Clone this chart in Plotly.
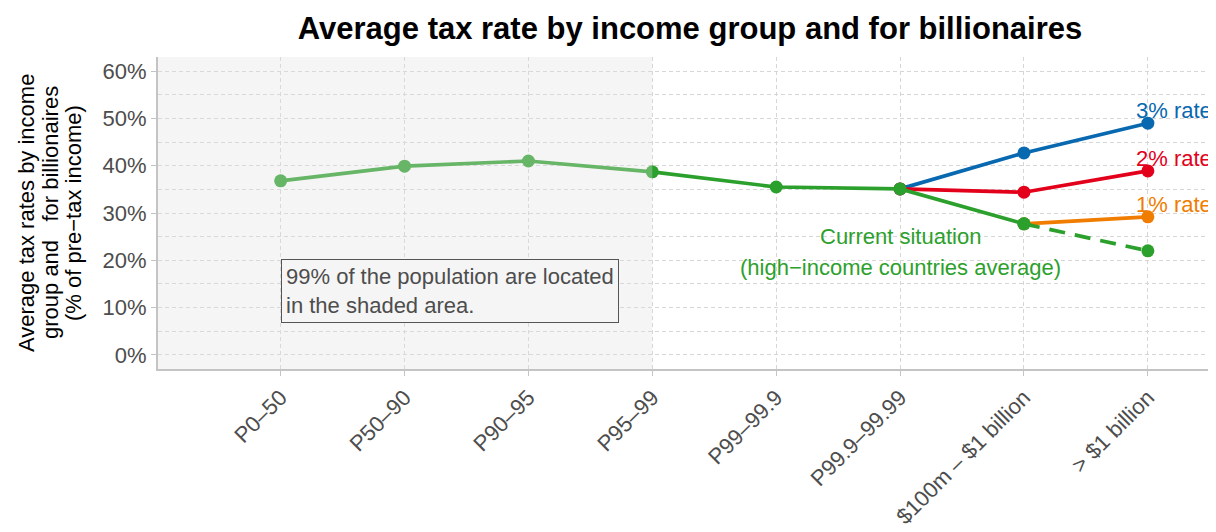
import plotly.graph_objects as go

categories = ["P0–50", "P50–90", "P90–95", "P95–99", "P99–99.9", "P99.9–99.99",
              "$100m – $1 billion", "> $1 billion"]
current_main = [36.8, 39.9, 41.0, 38.7, 35.5, 35.1, 27.7]
current_top = [27.7, 22.0]
rate3 = [35.1, 42.7, 49.0]
rate2 = [35.1, 34.4, 38.9]
rate1 = [27.7, 29.2]
y_ticks = [0, 10, 20, 30, 40, 50, 60]
y_tick_labels = ["0%", "10%", "20%", "30%", "40%", "50%", "60%"]
y_title_lines = ["Average tax rates by income", "group and   for billionaires",
                 "(% of pre−tax income)"]

GREEN = "#2ca02c"
BLUE = "#0868b0"
RED = "#e3001b"
ORANGE = "#f07d00"
FONT = "Liberation Sans, Arial, sans-serif"

xi = list(range(len(categories)))
fig = go.Figure()

def add_line(xs, ys, color, dash="solid"):
    fig.add_trace(go.Scatter(
        x=xs, y=ys, mode="lines+markers",
        line=dict(color=color, width=3.7, dash=dash),
        marker=dict(size=13, color=color), showlegend=False, hoverinfo="skip"))

add_line(xi[5:8], rate3, BLUE)
add_line(xi[5:8], rate2, RED)
add_line(xi[6:8], rate1, ORANGE)
add_line(xi[6:8], current_top, GREEN, dash="16px,10px")
add_line(xi[0:7], current_main, GREEN)

# shaded area (drawn on top, semi-transparent)
fig.add_shape(type="rect", xref="x", yref="paper", x0=-1.5, x1=3, y0=0, y1=1,
              fillcolor="rgba(224,224,224,0.33)", line=dict(width=0), layer="above")

# rate labels
for lbl, yv, col in [("3% rate", rate3[-1], BLUE), ("2% rate", rate2[-1], RED),
                     ("1% rate", rate1[-1], ORANGE)]:
    fig.add_annotation(x=7, y=yv, text=lbl, showarrow=False, xanchor="left",
                       xshift=-14, yanchor="bottom", yshift=-2,
                       font=dict(family=FONT, size=22, color=col))

fig.add_annotation(x=5, y=25.1, text="Current situation", showarrow=False,
                   font=dict(family=FONT, size=22, color=GREEN))
fig.add_annotation(x=5, y=18.4, text="(high−income countries average)", showarrow=False,
                   font=dict(family=FONT, size=22, color=GREEN))

fig.add_annotation(x=0.0, y=13.6, xanchor="left", yanchor="middle",
                   text="99% of the population are located<br>in the shaded area.",
                   showarrow=False, align="left",
                   font=dict(family=FONT, size=22, color="#4d4d4d"),
                   bgcolor="#f5f5f5", bordercolor="#555555", borderwidth=1,
                   borderpad=4)

# y-axis title, three lines
for line_text, px in zip(y_title_lines, [25, 49, 72]):
    fig.add_annotation(xref="paper", yref="paper", x=0, y=0.5, xanchor="center",
                       yanchor="middle", xshift=px - 157, text=line_text,
                       textangle=-90, showarrow=False,
                       font=dict(family=FONT, size=22, color="black"))

grid = dict(showgrid=True, gridcolor="#d6d6d6", gridwidth=1, griddash="4px,3px")

fig.update_layout(
    width=1208, height=524,
    margin=dict(l=150, r=0, t=49, b=163),
    paper_bgcolor="white", plot_bgcolor="white",
    title=dict(text="<b>Average tax rate by income group and for billionaires</b>",
               x=0.5646, xanchor="center", y=0.962, yanchor="middle",
               font=dict(family=FONT, size=31, color="black")),
    xaxis=dict(range=[-0.99, 7.55], tickmode="array", tickvals=xi, ticktext=categories,
               tickangle=-45, showline=True, linecolor="#c4c4c4", linewidth=2,
               ticks="outside", ticklen=5, tickcolor="#c4c4c4",
               tickfont=dict(family=FONT, size=22, color="#4d4d4d"),
               zeroline=False, automargin=False, **grid),
    yaxis=dict(range=[-3, 63], tickmode="array", tickvals=y_ticks, ticktext=y_tick_labels,
               showline=True, linecolor="#c4c4c4", linewidth=2,
               ticks="outside", ticklen=5, tickcolor="#c4c4c4",
               tickfont=dict(family=FONT, size=22, color="#4d4d4d"),
               zeroline=False, automargin=False,
               minor=dict(tickvals=[5, 15, 25, 35, 45, 55], showgrid=True,
                          gridcolor="#d6d6d6", griddash="4px,3px", ticks=""),
               **grid),
    font=dict(family=FONT),
)

fig.write_html("out.html")
